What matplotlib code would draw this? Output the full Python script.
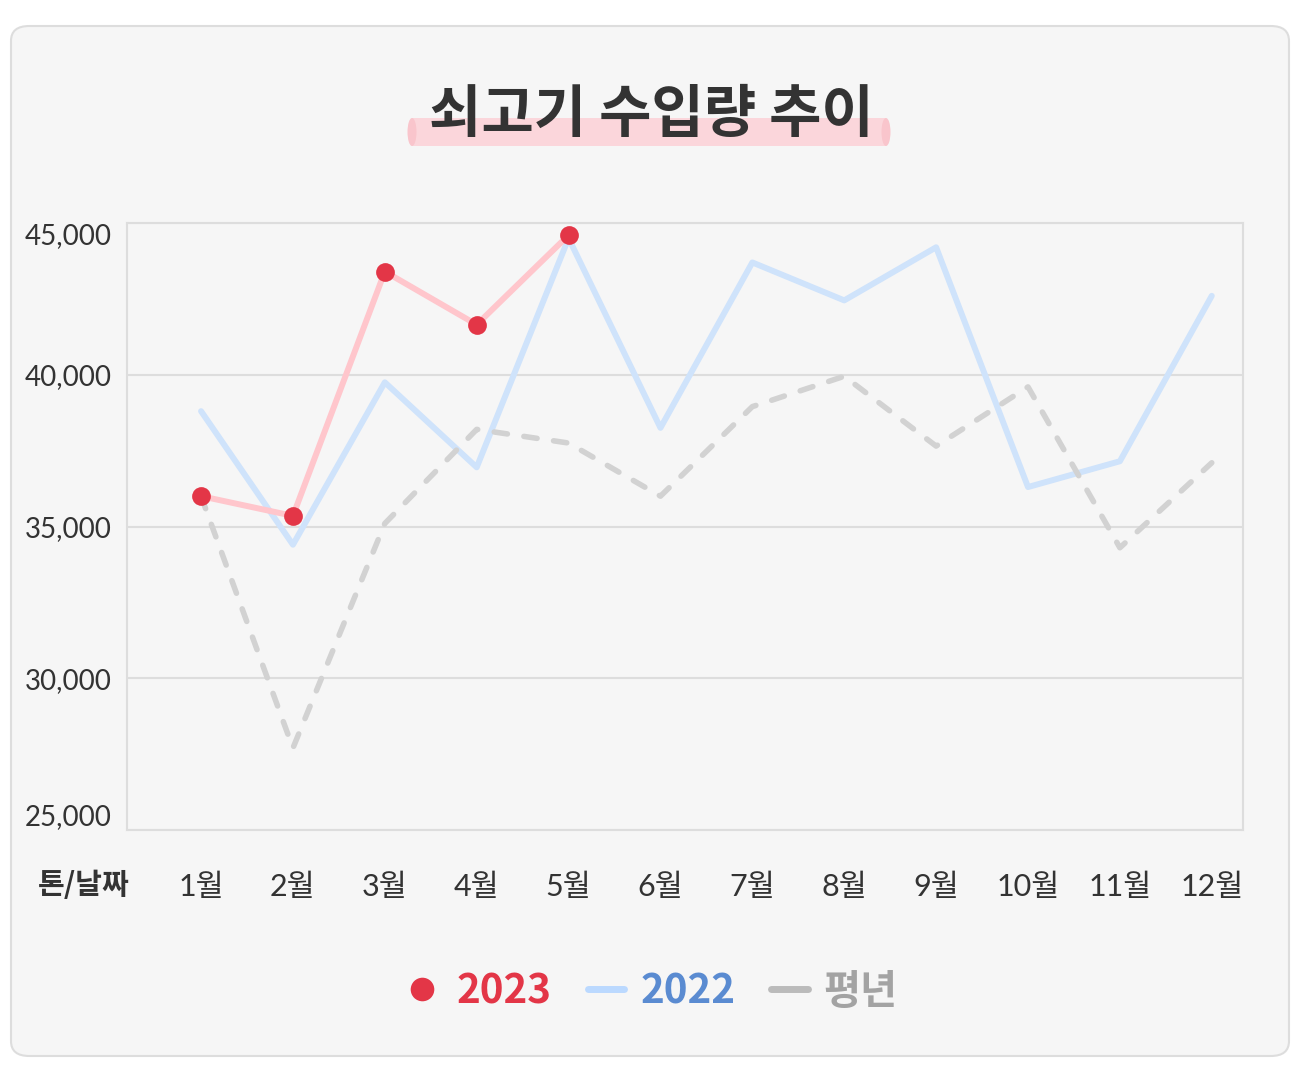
import matplotlib
matplotlib.use("Agg")
import matplotlib.pyplot as plt
from matplotlib.patches import FancyBboxPatch, Ellipse, Rectangle
from matplotlib.lines import Line2D
from matplotlib.ticker import FuncFormatter

# ---- data ----
months = ['1월', '2월', '3월', '4월', '5월', '6월', '7월', '8월', '9월', '10월', '11월', '12월']
y2023 = [36000, 35350, 43400, 41650, 44600]
y2022 = [38800, 34400, 39750, 36950, 44500, 38250, 43700, 42450, 44200, 36300, 37150, 42600]
avg_years = [36000, 27700, 35100, 38200, 37750, 36000, 38950, 39950, 37650, 39600, 34300, 37100]
yticks = [25000, 30000, 35000, 40000, 45000]
series_labels = ['2023', '2022', '평년']
title = '쇠고기 수입량 추이'
unit_label = '톤/날짜'

# ---- style ----
CJK = ['Noto Sans CJK KR', 'DejaVu Sans']
NUM = ['Lato', 'Noto Sans CJK KR', 'DejaVu Sans']
plt.rcParams['font.family'] = NUM

W, H = 1300, 1066
fig = plt.figure(figsize=(W / 100, H / 100), dpi=100)
fig.patch.set_facecolor('white')

# card background
card = FancyBboxPatch((11 / W, 1 - 1056 / H), (1289 - 11) / W, (1056 - 26) / H,
                      boxstyle="round,pad=0,rounding_size=0.014",
                      transform=fig.transFigure, facecolor='#F6F6F6',
                      edgecolor='#DDDDDD', linewidth=1.5, zorder=-10)
fig.patches.append(card)

# title highlight
hl_x0, hl_x1, hl_y0, hl_y1 = 412, 886, 118, 146
fig.patches.append(Rectangle((hl_x0 / W, 1 - hl_y1 / H), (hl_x1 - hl_x0) / W, (hl_y1 - hl_y0) / H,
                             transform=fig.transFigure, facecolor='#FBD6DB', edgecolor='none', zorder=-5))
for xc in (hl_x0, hl_x1):
    fig.patches.append(Ellipse((xc / W, 1 - (hl_y0 + hl_y1) / 2 / H), 9 / W, (hl_y1 - hl_y0) / H,
                               angle=0, transform=fig.transFigure, facecolor='#F9C5CC',
                               edgecolor='none', zorder=-4))
fig.text(651 / W, 1 - 115 / H, title, ha='center', va='center', fontsize=41,
         fontweight='bold', color='#333333', family=CJK, zorder=3)

# axes
ax = fig.add_axes([127 / W, 1 - 830 / H, (1243 - 127) / W, (830 - 223) / H])
ax.set_facecolor('#F6F6F6')
x = list(range(len(months)))

ax.plot(x, y2022, color='#CFE3FB', lw=4.3, solid_joinstyle='round', solid_capstyle='round', zorder=2)
ax.plot(x, avg_years, color='#D2D2D2', lw=4.0, linestyle=(0, (2.4, 3.0)),
        dash_capstyle='round', dash_joinstyle='round', zorder=3)
ax.plot(x[:len(y2023)], y2023, color='#FFC6CC', lw=4.3, solid_joinstyle='round', zorder=4)
ax.plot(x[:len(y2023)], y2023, linestyle='none', marker='o', ms=13.5, color='#E33647',
        markeredgewidth=0, zorder=5, clip_on=False)

ax.set_ylim(yticks[0], yticks[-1])
ax.set_xlim(-0.806, 11.34)
ax.set_yticks(yticks)
ax.yaxis.set_major_formatter(FuncFormatter(lambda v, p: f'{int(v):,}'))
ax.set_xticks(x)
ax.set_xticklabels(months)
ax.tick_params(axis='y', length=0, pad=11, labelsize=20, labelcolor='#333333')
ax.tick_params(axis='x', length=0, pad=31, labelsize=22, labelcolor='#333333')
ylabs = ax.get_yticklabels()
ylabs[-1].set_va('top')
ylabs[0].set_va('bottom')
ax.grid(axis='y', color='#DDDDDD', lw=1.5)
ax.set_axisbelow(True)
for s in ax.spines.values():
    s.set_color('#DDDDDD')
    s.set_linewidth(1.5)

fig.text(84 / W, 1 - 885 / H, unit_label, ha='center', va='center', fontsize=21,
         fontweight='bold', color='#333333', family=CJK)

# legend
handles = [
    Line2D([], [], linestyle='none', marker='o', ms=17, color='#E33647', markeredgewidth=0),
    Line2D([], [], color='#BBD9FF', lw=5, solid_capstyle='round'),
    Line2D([], [], color='#BBBBBB', lw=5, solid_capstyle='round'),
]
leg = fig.legend(handles, series_labels, loc='center', bbox_to_anchor=(651 / W, 1 - 992 / H),
                 ncol=3, frameon=False, handlelength=0.9, handletextpad=0.4,
                 columnspacing=0.9, labelcolor=['#E33647', '#5A8BD1', '#A3A3A3'],
                 prop={'family': CJK, 'size': 29, 'weight': 'bold'})

fig.savefig('out.png', dpi=100, facecolor='white')
